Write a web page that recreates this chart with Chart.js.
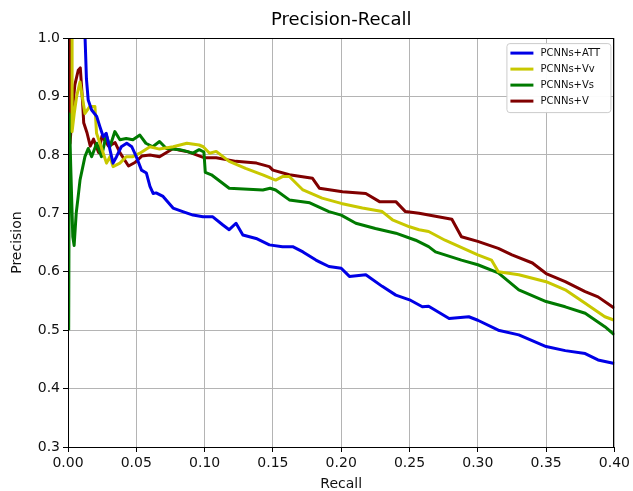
<!DOCTYPE html>
<html>
<head>
<meta charset="utf-8">
<script src="https://cdn.jsdelivr.net/npm/chart.js@4/dist/chart.umd.min.js"></script>
<style>
  html, body { margin: 0; padding: 0; background: #fff; }
  #wrap { width: 633px; height: 491px; }
</style>
</head>
<body>
<div id="wrap"><canvas id="c" width="633" height="491"></canvas></div>
<script>
// ---- Data ----
const seriesLabels = ["PCNNs+ATT", "PCNNs+Vv", "PCNNs+Vs", "PCNNs+V"];
const seriesColors = ["#0000e6", "#c8c800", "#007a00", "#800000"];

const attRecall    = [0.0125,0.0135,0.0148,0.0173,0.021,0.0234,0.0258,0.028,0.0307,0.033,0.0355,0.039,0.043,0.0467,0.050,0.0538,0.0574,0.060,0.0623,0.0645,0.0696,0.0769,0.084,0.0915,0.0988,0.106,0.1134,0.118,0.123,0.128,0.1377,0.1474,0.157,0.1645,0.172,0.1815,0.184,0.191,0.200,0.206,0.218,0.230,0.240,0.250,0.2594,0.264,0.279,0.2934,0.300,0.315,0.330,0.350,0.364,0.3786,0.388,0.400];
const attPrecision = [1.0,0.93,0.894,0.877,0.866,0.848,0.831,0.837,0.809,0.786,0.797,0.814,0.82,0.814,0.797,0.774,0.769,0.746,0.734,0.735,0.729,0.709,0.703,0.697,0.694,0.694,0.68,0.672,0.683,0.663,0.657,0.646,0.643,0.643,0.634,0.62,0.617,0.609,0.606,0.592,0.595,0.575,0.56,0.552,0.54,0.541,0.52,0.523,0.517,0.50,0.492,0.472,0.465,0.46,0.449,0.443];

const vvRecall    = [0.003,0.003,0.0045,0.0063,0.0088,0.0124,0.016,0.0197,0.0209,0.0234,0.0258,0.0282,0.0307,0.033,0.038,0.0426,0.0475,0.0526,0.060,0.067,0.077,0.087,0.096,0.099,0.1036,0.1085,0.118,0.130,0.1426,0.152,0.157,0.162,0.172,0.186,0.200,0.2155,0.230,0.2375,0.250,0.257,0.264,0.276,0.300,0.310,0.315,0.330,0.350,0.364,0.3786,0.393,0.400];
const vvPrecision = [1.0,0.84,0.87,0.90,0.925,0.871,0.883,0.883,0.837,0.82,0.803,0.786,0.797,0.78,0.786,0.797,0.797,0.803,0.814,0.81,0.814,0.82,0.817,0.814,0.803,0.806,0.789,0.777,0.766,0.757,0.763,0.763,0.74,0.726,0.717,0.709,0.703,0.689,0.677,0.672,0.669,0.654,0.629,0.62,0.60,0.595,0.583,0.569,0.546,0.523,0.517];

const vsRecall    = [0.0005,0.001,0.002,0.0035,0.0045,0.006,0.0075,0.0088,0.0124,0.0148,0.0173,0.021,0.0245,0.028,0.0307,0.0343,0.038,0.0426,0.0475,0.0526,0.057,0.062,0.067,0.072,0.082,0.0915,0.096,0.0995,0.1005,0.105,0.118,0.1426,0.148,0.152,0.162,0.177,0.191,0.200,0.2107,0.225,0.240,0.2545,0.264,0.269,0.288,0.300,0.315,0.330,0.350,0.364,0.3786,0.393,0.400];
const vsPrecision = [0.5,0.87,0.78,0.66,0.645,0.70,0.73,0.757,0.797,0.811,0.797,0.82,0.797,0.834,0.814,0.84,0.826,0.828,0.826,0.834,0.82,0.814,0.823,0.811,0.809,0.803,0.809,0.805,0.77,0.766,0.743,0.74,0.743,0.74,0.723,0.718,0.703,0.697,0.683,0.674,0.666,0.654,0.643,0.634,0.62,0.612,0.598,0.569,0.549,0.54,0.529,0.506,0.492];

const vRecall    = [0.0015,0.0015,0.003,0.005,0.0075,0.009,0.0107,0.0115,0.0139,0.0163,0.0187,0.0224,0.0248,0.0297,0.0345,0.038,0.0443,0.049,0.054,0.060,0.067,0.077,0.082,0.087,0.094,0.100,0.1085,0.123,0.138,0.1474,0.150,0.162,0.179,0.184,0.201,0.218,0.228,0.240,0.247,0.257,0.264,0.281,0.288,0.300,0.315,0.325,0.340,0.350,0.364,0.3786,0.388,0.400];
const vPrecision = [1.0,0.82,0.87,0.92,0.945,0.949,0.89,0.855,0.838,0.815,0.827,0.804,0.832,0.815,0.821,0.804,0.781,0.787,0.798,0.80,0.797,0.811,0.808,0.806,0.80,0.795,0.795,0.789,0.786,0.78,0.774,0.766,0.76,0.743,0.737,0.734,0.72,0.72,0.703,0.70,0.697,0.69,0.66,0.652,0.64,0.629,0.615,0.597,0.583,0.566,0.557,0.5375];

const xTicks = [0.00,0.05,0.10,0.15,0.20,0.25,0.30,0.35,0.40];
const yTicks = [0.3,0.4,0.5,0.6,0.7,0.8,0.9,1.0];

// ---- Build datasets ----
function pts(xs, ys) { return xs.map((x, i) => ({ x: x, y: ys[i] })); }
const allSeries = [[attRecall, attPrecision],[vvRecall, vvPrecision],[vsRecall, vsPrecision],[vRecall, vPrecision]];
const datasets = allSeries.map((s, i) => ({
  label: seriesLabels[i],
  data: pts(s[0], s[1]),
  borderColor: seriesColors[i],
  backgroundColor: seriesColors[i],
  borderWidth: 3,
  pointRadius: 0,
  showLine: true,
  tension: 0,
  clip: 0,
  borderJoinStyle: 'round'
}));

const FONT = "'DejaVu Sans', sans-serif";

// frame + legend plugin
const framePlugin = {
  id: 'frame',
  afterDraw(chart) {
    const { ctx, chartArea: a } = chart;
    ctx.save();
    ctx.strokeStyle = '#000';
    ctx.lineWidth = 1;
    ctx.strokeRect(Math.round(a.left) + 0.5, Math.round(a.top) + 0.5, Math.round(a.right - a.left) - 1, Math.round(a.bottom - a.top));
    // legend
    const bx = a.right - 108, by = a.top + 5, bw = 104, bh = 69;
    ctx.fillStyle = 'rgba(255,255,255,0.95)';
    ctx.strokeStyle = '#cccccc';
    ctx.beginPath();
    if (ctx.roundRect) ctx.roundRect(bx + 0.5, by + 0.5, bw, bh, 3); else ctx.rect(bx + 0.5, by + 0.5, bw, bh);
    ctx.fill();
    ctx.stroke();
    ctx.font = "10px " + FONT;
    ctx.textBaseline = 'middle';
    ctx.textAlign = 'left';
    chart.data.datasets.forEach((ds, i) => {
      const y = by + 10 + i * 16;
      ctx.strokeStyle = ds.borderColor;
      ctx.lineWidth = 3;
      ctx.beginPath();
      ctx.moveTo(bx + 4, y);
      ctx.lineTo(bx + 27, y);
      ctx.stroke();
      ctx.fillStyle = '#111';
      ctx.fillText(ds.label, bx + 34, y + 0.5);
    });
    ctx.restore();
  }
};

new Chart(document.getElementById('c'), {
  type: 'scatter',
  data: { datasets: datasets },
  options: {
    responsive: false,
    animation: false,
    layout: { padding: { left: 0, right: 17, top: 0, bottom: 0 } },
    plugins: {
      legend: { display: false },
      tooltip: { enabled: false },
      title: {
        display: true,
        fullSize: false,
        text: 'Precision-Recall',
        color: '#000',
        font: { family: FONT, size: 18, weight: 'normal', lineHeight: 1.2 },
        padding: { top: 9.5, bottom: 7 }
      }
    },
    scales: {
      x: {
        type: 'linear',
        min: 0, max: 0.4,
        afterBuildTicks(scale) { scale.ticks = xTicks.map(v => ({ value: v })); },
        afterFit(scale) { scale.height = 44; },
        ticks: {
          color: '#111',
          font: { family: FONT, size: 14 },
          padding: 3,
          maxRotation: 0,
          autoSkip: false,
          callback: (v) => Number(v).toFixed(2)
        },
        grid: { color: '#b4b4b4', lineWidth: 1, tickLength: 5, tickColor: '#000' },
        border: { color: '#000', width: 1 },
        title: {
          display: true, text: 'Recall', color: '#111',
          font: { family: FONT, size: 14, lineHeight: 1.0 },
          padding: { top: 0, bottom: 0 }
        }
      },
      y: {
        type: 'linear',
        min: 0.3, max: 1.0,
        afterBuildTicks(scale) { scale.ticks = yTicks.map(v => ({ value: v })); },
        afterFit(scale) { scale.width = 68; },
        ticks: {
          color: '#111',
          font: { family: FONT, size: 14 },
          padding: 3,
          autoSkip: false,
          callback: (v) => Number(v).toFixed(1)
        },
        grid: { color: '#b4b4b4', lineWidth: 1, tickLength: 5, tickColor: '#000' },
        border: { color: '#000', width: 1 },
        title: {
          display: true, text: 'Precision', color: '#111',
          font: { family: FONT, size: 14, lineHeight: 1.2 },
          padding: { top: 9, bottom: 0 }
        }
      }
    }
  },
  plugins: [framePlugin]
});
</script>
</body>
</html>
